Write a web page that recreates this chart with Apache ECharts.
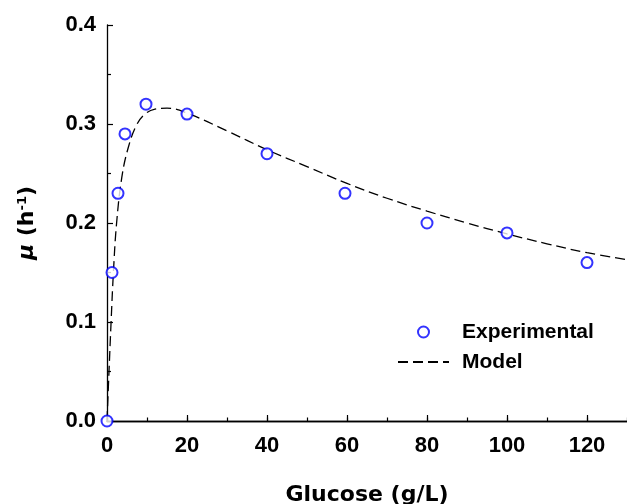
<!DOCTYPE html>
<html>
<head>
<meta charset="utf-8">
<script src="https://cdn.jsdelivr.net/npm/echarts@6/dist/echarts.min.js"></script>
<style>
html,body{margin:0;padding:0;background:#fff;}
#c{width:627px;height:504px;}
</style>
</head>
<body>
<div id="c"></div>
<script>
// Experimental points (Glucose g/L, mu h^-1)
const expX = [0, 1.25, 2.75, 4.5, 9.75, 20, 40, 59.5, 80, 100, 120];
const expY = [0, 0.15, 0.23, 0.29, 0.32, 0.31, 0.27, 0.23, 0.20, 0.19, 0.16];
// Model curve
const modelX = [0, 0.5, 1.0, 1.6, 2.4, 3.7, 5.3, 7.4, 9.5, 12, 15, 20, 30, 40, 50, 60, 70, 80, 90, 100, 110, 120, 130];
const modelY = [0, 0.050, 0.098, 0.150, 0.200, 0.246, 0.276, 0.299, 0.310, 0.315, 0.316, 0.311, 0.293, 0.274, 0.257, 0.240, 0.225, 0.212, 0.200, 0.189, 0.179, 0.170, 0.163];
const xMajorTicks = [0, 20, 40, 60, 80, 100, 120];

const FONT = '"Liberation Sans", Arial, sans-serif';
const TFONT = '"DejaVu Sans", sans-serif';
const chart = echarts.init(document.getElementById('c'), null, {renderer: 'canvas'});
const gridRect = {left: 107, right: 0, top: 25, bottom: 83, containLabel: false, outerBoundsMode: 'none'};

chart.setOption({
  animation: false,
  backgroundColor: '#fff',
  grid: [Object.assign({}, gridRect), Object.assign({}, gridRect)],
  legend: {
    orient: 'vertical',
    left: 397,
    top: 320,
    padding: 0,
    itemWidth: 51,
    itemHeight: 11,
    itemGap: 6,
    selectedMode: false,
    textStyle: {fontFamily: FONT, fontSize: 21, fontWeight: 'bold', color: '#000', lineHeight: 24, padding: [0, 0, 0, 8]},
    data: [
      {name: 'Experimental'},
      {name: 'Model', itemStyle: {opacity: 0}}
    ]
  },
  xAxis: [
    {
      gridIndex: 0, type: 'value', position: 'bottom', min: 0, max: 130, interval: 20,
      name: 'Glucose (g/L)', nameLocation: 'middle', nameGap: 63,
      nameTextStyle: {fontFamily: TFONT, fontSize: 22, fontWeight: 'bold', color: '#000'},
      axisLine: {show: true, lineStyle: {color: '#000', width: 1.3}},
      axisTick: {show: true, inside: true, length: 6, customValues: xMajorTicks, lineStyle: {color: '#000', width: 1.2}},
      axisLabel: {show: true, margin: 14, customValues: xMajorTicks, fontFamily: FONT, fontSize: 22, fontWeight: 'bold', color: '#000'},
      splitLine: {show: false}
    },
    {
      gridIndex: 0, type: 'value', position: 'bottom', min: 0, max: 130, interval: 10,
      axisLine: {show: false},
      axisTick: {show: true, inside: true, length: 3.5, lineStyle: {color: '#000', width: 1.2}},
      axisLabel: {show: false},
      splitLine: {show: false}
    },
    {
      gridIndex: 1, type: 'value', position: 'top', min: 0, max: 130,
      axisLine: {show: true, lineStyle: {color: '#000', width: 1.3}},
      axisTick: {show: false},
      axisLabel: {show: false},
      splitLine: {show: false}
    }
  ],
  yAxis: [
    {
      gridIndex: 0, type: 'value', min: 0, max: 0.4, interval: 0.1,
      name: '{mu|μ} {n|(h}{sup|-1}{n|)}', nameLocation: 'middle', nameGap: 69,
      nameTextStyle: {
        fontFamily: TFONT, fontSize: 22, fontWeight: 'bold', color: '#000',
        rich: {
          mu: {fontFamily: TFONT, fontSize: 22, fontWeight: 'bold', fontStyle: 'italic', color: '#000'},
          n: {fontFamily: TFONT, fontSize: 22, fontWeight: 'bold', color: '#000'},
          sup: {fontFamily: TFONT, fontSize: 13, fontWeight: 'bold', color: '#000', verticalAlign: 'top'}
        }
      },
      axisLine: {show: true, lineStyle: {color: '#000', width: 1.3}},
      axisTick: {show: true, inside: true, length: 6, lineStyle: {color: '#000', width: 1.2}},
      minorTick: {show: true, splitNumber: 2, length: 4, lineStyle: {color: '#000', width: 1.2}},
      axisLabel: {show: true, margin: 11, fontFamily: FONT, fontSize: 22, fontWeight: 'bold', color: '#000',
        formatter: v => v.toFixed(1)},
      splitLine: {show: false}
    },
    {
      gridIndex: 1, type: 'value', min: 0, max: 0.4, show: false
    }
  ],
  series: [
    {
      name: 'Model', type: 'line', xAxisIndex: 0, yAxisIndex: 0,
      data: modelX.map((x, i) => [x, modelY[i]]),
      smooth: 0.4,
      showSymbol: false, symbol: 'none',
      lineStyle: {color: '#000', width: 1.3, type: [10, 5]},
      itemStyle: {color: '#000'},
      z: 2
    },
    {
      name: 'Experimental', type: 'scatter', xAxisIndex: 0, yAxisIndex: 0,
      data: expX.map((x, i) => [x, expY[i]]),
      symbol: 'emptyCircle', symbolSize: 11,
      itemStyle: {color: '#0000ff', borderColor: '#0000ff', borderWidth: 1.3},
      z: 3
    }
  ]
});
</script>
</body>
</html>
